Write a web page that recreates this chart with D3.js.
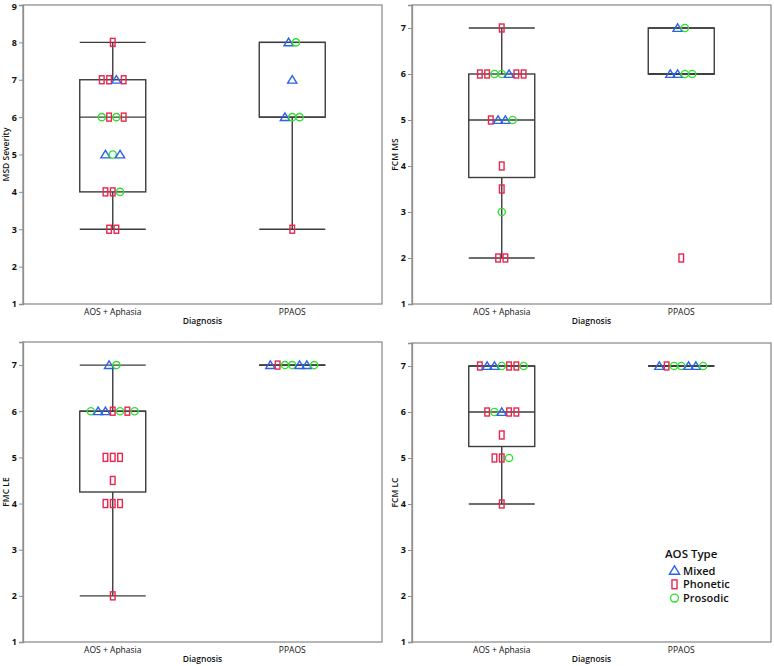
<!DOCTYPE html>
<html><head><meta charset="utf-8">
<script src="https://cdn.jsdelivr.net/npm/d3@7"></script>
<style>
body{margin:0;background:#fff;}
svg text{font-family:"Open Sans","Noto Sans",sans-serif;fill:#111;}
</style></head>
<body><svg id="c" width="774" height="666"></svg>
<script>
// ---- data ----
const categories = ["AOS + Aphasia", "PPAOS"];
const typeNames = ["Mixed", "Phonetic", "Prosodic"]; // T = Mixed, P = Phonetic, C = Prosodic
const yTitles = ["MSD Severity", "FCM MS", "FMC LE", "FCM LC"];
const xTitle = "Diagnosis";
const yDomains = [[1, 9], [1, 7.5], [1, 7.5], [1, 7.5]];
const yTicks = [[1,2,3,4,5,6,7,8,9],[1,2,3,4,5,6,7],[1,2,3,4,5,6,7],[1,2,3,4,5,6,7]];

// Panel 1: MSD Severity
const msdAphasiaValues = [8, 7,7,7,7, 6,6,6,6, 5,5,5, 4,4,4, 3,3];
const msdAphasiaTypes  = ["P", "P","P","T","P", "C","P","C","P", "T","C","T", "P","P","C", "P","P"];
const msdPpaosValues   = [8,8, 7, 6,6,6, 3];
const msdPpaosTypes    = ["T","C", "T", "T","C","C", "P"];
// Panel 2: FCM MS
const fcmMsAphasiaValues = [7, 6,6,6,6,6,6,6, 5,5,5,5, 4, 3.5, 3, 2,2];
const fcmMsAphasiaTypes  = ["P", "P","P","C","C","T","P","P", "P","T","T","C", "P", "P", "C", "P","P"];
const fcmMsPpaosValues   = [7,7, 6,6,6,6, 2];
const fcmMsPpaosTypes    = ["T","C", "T","T","C","C", "P"];
// Panel 3: FMC LE
const fmcLeAphasiaValues = [7,7, 6,6,6,6,6,6,6, 5,5,5, 4.5, 4,4,4, 2];
const fmcLeAphasiaTypes  = ["T","C", "C","T","T","P","C","P","C", "P","P","P", "P", "P","P","P", "P"];
const fmcLePpaosValues   = [7,7,7,7,7,7,7];
const fmcLePpaosTypes    = ["T","P","C","C","T","T","C"];
// Panel 4: FCM LC
const fcmLcAphasiaValues = [7,7,7,7,7,7,7, 6,6,6,6,6, 5.5, 5,5,5, 4];
const fcmLcAphasiaTypes  = ["P","T","T","C","P","P","C", "P","C","T","P","P", "P", "P","P","C", "P"];
const fcmLcPpaosValues   = [7,7,7,7,7,7,7];
const fcmLcPpaosTypes    = ["T","P","C","C","T","T","C"];

const panelData = [
  [[msdAphasiaValues, msdAphasiaTypes], [msdPpaosValues, msdPpaosTypes]],
  [[fcmMsAphasiaValues, fcmMsAphasiaTypes], [fcmMsPpaosValues, fcmMsPpaosTypes]],
  [[fmcLeAphasiaValues, fmcLeAphasiaTypes], [fmcLePpaosValues, fmcLePpaosTypes]],
  [[fcmLcAphasiaValues, fcmLcAphasiaTypes], [fcmLcPpaosValues, fcmLcPpaosTypes]]
];

// ---- layout ----
const frames = [
  {x0: 23, x1: 382, y0: 5, y1: 304, ttlX: 6},
  {x0: 412, x1: 771, y0: 5, y1: 304, ttlX: 395},
  {x0: 23, x1: 382, y0: 342, y1: 642, ttlX: 6},
  {x0: 412, x1: 771, y0: 343, y1: 642, ttlX: 395}
];
const colors = {T: "#2a63e8", P: "#e8264f", C: "#2fe02f"};
const boxLine = "#3c3c3c";
const frameCol = "#8f8f8f";
const dodge = 7.3;
const boxW = 66;

function quant(sorted, p) {
  const n = sorted.length;
  const pos = p * (n + 1);
  if (pos <= 1) return sorted[0];
  if (pos >= n) return sorted[n - 1];
  const lo = Math.floor(pos), f = pos - lo;
  return sorted[lo - 1] + f * (sorted[lo] - sorted[lo - 1]);
}
function boxStats(vals) {
  const s = vals.slice().sort((a, b) => a - b);
  const q1 = quant(s, 0.25), med = quant(s, 0.5), q3 = quant(s, 0.75);
  const iqr = q3 - q1;
  const lo = d3.min(s.filter(v => v >= q1 - 1.5 * iqr));
  const hi = d3.max(s.filter(v => v <= q3 + 1.5 * iqr));
  return {q1, med, q3, lo, hi};
}

const svg = d3.select("#c");

function symbol(g, t, x, y, s = 1) {
  const c = colors[t];
  if (t === "T") {
    g.append("path").attr("d", `M${x},${y-4.2*s}L${x+4.6*s},${y+3.4*s}L${x-4.6*s},${y+3.4*s}Z`)
      .attr("fill", "none").attr("stroke", c).attr("stroke-width", 1.4);
  } else if (t === "P") {
    g.append("rect").attr("x", x - 2.3*s).attr("y", y - 4*s).attr("width", 4.6*s).attr("height", 8*s)
      .attr("fill", "none").attr("stroke", c).attr("stroke-width", 1.4);
  } else {
    g.append("circle").attr("cx", x).attr("cy", y).attr("r", 3.6*s)
      .attr("fill", "none").attr("stroke", c).attr("stroke-width", 1.4);
  }
}

frames.forEach((f, pi) => {
  const g = svg.append("g");
  const x = d3.scaleBand().domain(categories).range([f.x0, f.x1]);
  const y = d3.scaleLinear().domain(yDomains[pi]).range([f.y1, f.y0]);

  // frame
  g.append("rect").attr("x", f.x0).attr("y", f.y0).attr("width", f.x1 - f.x0).attr("height", f.y1 - f.y0)
    .attr("fill", "none").attr("stroke", frameCol).attr("stroke-width", 1.3);

  // y axis
  const ax = g.append("g").attr("transform", `translate(${f.x0},0)`)
    .call(d3.axisLeft(y).tickValues(yTicks[pi]).tickSize(4).tickPadding(2).tickFormat(d3.format("d")));
  ax.select(".domain").attr("stroke", frameCol).attr("stroke-width", 1.3);
  ax.selectAll(".tick line").attr("stroke", frameCol);
  ax.selectAll("text").attr("font-size", 9).attr("font-weight", "bold").attr("fill", "#111")
    .attr("font-family", "'Open Sans',sans-serif");
  // keep a label at the very top edge inside the picture
  ax.selectAll(".tick").filter(d => y(d) < 8).select("text").attr("dy", "0.5em");

  // x labels
  const xa = g.append("g").attr("transform", `translate(0,${f.y1})`)
    .call(d3.axisBottom(x).tickSize(0).tickPadding(5));
  xa.select(".domain").remove();
  xa.selectAll("text").attr("font-size", 8.5).attr("fill", "#111")
    .attr("font-family", "'Open Sans',sans-serif");

  g.append("text").attr("x", (f.x0 + f.x1) / 2).attr("y", f.y1 + 20)
    .attr("text-anchor", "middle").attr("font-size", 8.5).attr("font-weight", 600).text(xTitle);

  g.append("text").attr("transform", `translate(${f.ttlX + 3},${(f.y0 + f.y1) / 2}) rotate(-90)`)
    .attr("text-anchor", "middle").attr("font-size", 8.5).attr("font-weight", 600).text(yTitles[pi]);

  // boxes
  panelData[pi].forEach(([vals, types], ci) => {
    const cx = x(categories[ci]) + x.bandwidth() / 2;
    const st = boxStats(vals);
    const bx0 = cx - boxW / 2, bx1 = cx + boxW / 2;
    const bg = g.append("g").attr("stroke", boxLine).attr("stroke-width", 1.4).attr("fill", "none");
    if (st.hi > st.q3) bg.append("line").attr("x1", cx).attr("x2", cx).attr("y1", y(st.q3)).attr("y2", y(st.hi));
    if (st.lo < st.q1) bg.append("line").attr("x1", cx).attr("x2", cx).attr("y1", y(st.q1)).attr("y2", y(st.lo));
    [st.lo, st.hi].forEach(v => bg.append("line").attr("x1", bx0).attr("x2", bx1).attr("y1", y(v)).attr("y2", y(v)));
    bg.append("rect").attr("x", bx0).attr("y", y(st.q3)).attr("width", boxW).attr("height", Math.max(0, y(st.q1) - y(st.q3)));
    bg.append("line").attr("x1", bx0).attr("x2", bx1).attr("y1", y(st.med)).attr("y2", y(st.med));

    // points, dodged per value
    const groups = d3.group(vals.map((v, i) => ({v, t: types[i]})), d => d.v);
    const pg = g.append("g");
    groups.forEach((arr, v) => {
      const k = arr.length;
      arr.forEach((d, i) => symbol(pg, d.t, cx + (i - (k - 1) / 2) * dodge, y(v)));
    });
  });
});

// legend
const lg = svg.append("g");
lg.append("text").attr("x", 665).attr("y", 558).attr("font-size", 11.5).attr("font-weight", 600).text("AOS Type");
const legendTypes = ["T", "P", "C"];
legendTypes.forEach((t, i) => {
  const yy = 570.5 + i * 13.8;
  symbol(lg, t, 674.5, yy, 1.1);
  lg.append("text").attr("x", 683).attr("y", yy + 4).attr("font-size", 11).attr("font-weight", 600).text(typeNames[i]);
});
</script></body></html>
